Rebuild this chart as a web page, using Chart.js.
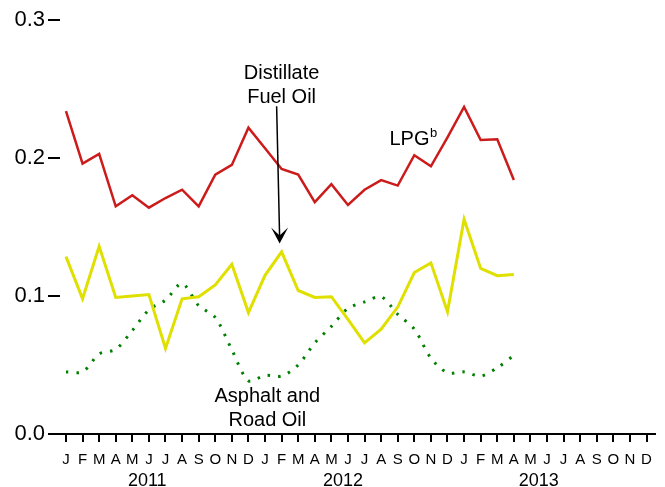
<!DOCTYPE html>
<html>
<head>
<meta charset="utf-8">
<script src="https://cdn.jsdelivr.net/npm/chart.js@4.4.1/dist/chart.umd.min.js"></script>
<style>
  html, body { margin: 0; padding: 0; background: #fff; }
  #wrap { width: 665px; height: 487px; }
</style>
</head>
<body>
<div id="wrap"><canvas id="myChart" width="665" height="487"></canvas></div>
<script>
// month letters, Jan 2011 - Dec 2013
var monthLetters = ['J','F','M','A','M','J','J','A','S','O','N','D'];
var months = monthLetters.concat(monthLetters, monthLetters);
var years = ['2011', '2012', '2013'];
var yTicks = [0, 0.1, 0.2, 0.3];

// values, Jan 2011 - Apr 2013
var lpg = [0.234, 0.196, 0.203, 0.165, 0.173, 0.164, 0.171, 0.177, 0.165, 0.188, 0.195, 0.222,
           0.207, 0.192, 0.188, 0.168, 0.181, 0.166, 0.177, 0.184, 0.180, 0.202, 0.194, 0.215,
           0.237, 0.213, 0.2135, 0.184];
var distillate = [0.1285, 0.098, 0.136, 0.099, 0.100, 0.101, 0.062, 0.098, 0.0995, 0.108, 0.123, 0.088,
                  0.115, 0.132, 0.104, 0.099, 0.0995, 0.083, 0.066, 0.076, 0.092, 0.117, 0.124, 0.0886,
                  0.1556, 0.120, 0.1147, 0.1155];
var asphalt = [0.045, 0.045, 0.058, 0.0614, 0.075, 0.090, 0.097, 0.109, 0.093, 0.0845, 0.061, 0.0386,
               0.0425, 0.042, 0.050, 0.066, 0.078, 0.091, 0.0957, 0.0995, 0.0867, 0.076, 0.055, 0.0444,
               0.045, 0.042, 0.048, 0.057];

function toPoints(arr) {
    return arr.map(function (v, i) { return { x: i, y: v }; });
}

var FONT = 'Liberation Sans, Arial, sans-serif';

// text labels + arrow drawn in data coordinates
var annotations = {
    id: 'annotations',
    afterDatasetsDraw: function (chart) {
        var ctx = chart.ctx;
        var xs = chart.scales.x, ys = chart.scales.y;
        var px = function (v) { return xs.getPixelForValue(v); };
        var py = function (v) { return ys.getPixelForValue(v); };
        ctx.save();
        ctx.fillStyle = '#000';
        ctx.font = '20px ' + FONT;
        ctx.textAlign = 'center';
        ctx.textBaseline = 'middle';
        ctx.fillText('Distillate', px(13.0), py(0.2612));
        ctx.fillText('Fuel Oil', px(13.0), py(0.2442));
        ctx.fillText('Asphalt and', px(12.14), py(0.0272));
        ctx.fillText('Road Oil', px(12.14), py(0.0096));

        ctx.textAlign = 'left';
        ctx.fillText('LPG', px(19.5), py(0.2131));
        ctx.font = '13px ' + FONT;
        ctx.fillText('b', px(21.95), py(0.218));

        // arrow
        var x1 = px(12.7), y1 = py(0.2375);
        var x2 = px(12.88), y2 = py(0.138);
        ctx.strokeStyle = '#000';
        ctx.lineWidth = 1.5;
        ctx.beginPath();
        ctx.moveTo(x1, y1);
        ctx.lineTo(x2, y2 - 6);
        ctx.stroke();
        ctx.beginPath();
        ctx.moveTo(x2, y2);
        ctx.lineTo(x2 - 8.5, y2 - 16);
        ctx.lineTo(x2, y2 - 8);
        ctx.lineTo(x2 + 8.5, y2 - 16);
        ctx.closePath();
        ctx.fill();
        ctx.restore();
    }
};

var ctx = document.getElementById('myChart').getContext('2d');
var myChart = new Chart(ctx, {
    type: 'line',
    data: {
        datasets: [{
            label: 'LPG',
            data: toPoints(lpg),
            borderColor: '#cc1b1b',
            borderWidth: 2.5,
            pointRadius: 0,
            tension: 0
        }, {
            label: 'Distillate Fuel Oil',
            data: toPoints(distillate),
            borderColor: '#e0e000',
            borderWidth: 3,
            pointRadius: 0,
            tension: 0
        }, {
            label: 'Asphalt and Road Oil',
            data: toPoints(asphalt),
            borderColor: '#007f00',
            borderWidth: 3,
            borderDash: [2.5, 8],
            pointRadius: 0,
            tension: 0.3
        }]
    },
    options: {
        responsive: false,
        animation: false,
        layout: { padding: { top: 20, right: 10, left: 0, bottom: 0 } },
        scales: {
            x: {
                type: 'linear',
                position: 'bottom',
                min: -0.36,
                max: 35.51,
                afterBuildTicks: function (scale) {
                    scale.ticks = months.map(function (m, i) { return { value: i }; });
                },
                afterFit: function (scale) { scale.height = 33; },
                ticks: {
                    autoSkip: false,
                    maxRotation: 0,
                    padding: 9,
                    color: '#000',
                    font: { family: FONT, size: 15 },
                    callback: function (value) { return months[value]; }
                },
                grid: {
                    drawOnChartArea: false,
                    drawTicks: true,
                    tickLength: 8,
                    color: '#000',
                    lineWidth: 2
                },
                border: { display: true, color: '#000', width: 2 }
            },
            x2: {
                type: 'linear',
                position: 'bottom',
                min: -0.36,
                max: 35.51,
                afterBuildTicks: function (scale) {
                    scale.ticks = years.map(function (y, i) { return { value: 4.9 + i * 11.8 }; });
                },
                afterFit: function (scale) { scale.height = 20; },
                ticks: {
                    autoSkip: false,
                    maxRotation: 0,
                    padding: 3,
                    color: '#000',
                    font: { family: FONT, size: 18 },
                    callback: function (value, index) { return years[index]; }
                },
                grid: { display: false, drawTicks: false },
                border: { display: false }
            },
            y: {
                min: 0,
                max: 0.3,
                afterBuildTicks: function (scale) {
                    scale.ticks = yTicks.map(function (v) { return { value: v }; });
                },
                afterFit: function (scale) { scale.width = 60; },
                ticks: {
                    padding: 3,
                    color: '#000',
                    font: { family: FONT, size: 22 },
                    callback: function (value) { return value.toFixed(1); }
                },
                grid: {
                    drawOnChartArea: false,
                    drawTicks: true,
                    tickLength: 12,
                    color: '#000',
                    lineWidth: 2
                },
                border: { display: false }
            }
        },
        plugins: {
            legend: { display: false },
            tooltip: { enabled: false }
        }
    },
    plugins: [annotations]
});
</script>
</body>
</html>
